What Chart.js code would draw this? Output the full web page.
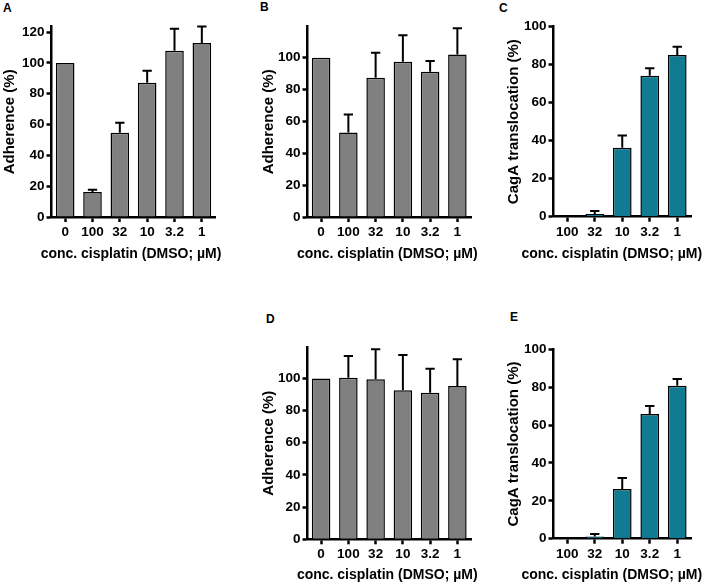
<!DOCTYPE html>
<html>
<head>
<meta charset="utf-8">
<script src="https://cdn.jsdelivr.net/npm/chart.js@4"></script>
<style>
  body { margin: 0; background: #fff; width: 704px; height: 582px; position: relative; overflow: hidden; font-family: "Liberation Sans", Arial, sans-serif; }
  canvas { position: absolute; }
  .tag { position: absolute; font-weight: bold; font-size: 12px; line-height: 12px; color: #000; }
</style>
</head>
<body>
<div class="tag" style="left:3px;top:2px">A</div>
<div class="tag" style="left:260px;top:1px">B</div>
<div class="tag" style="left:499px;top:2px">C</div>
<div class="tag" style="left:266px;top:313px">D</div>
<div class="tag" style="left:510px;top:311px">E</div>
<canvas id="cA"></canvas>
<canvas id="cB"></canvas>
<canvas id="cC"></canvas>
<canvas id="cD"></canvas>
<canvas id="cE"></canvas>
<script>
// categories
const adhCats = ["0", "100", "32", "10", "3.2", "1"];
const cagCats = ["100", "32", "10", "3.2", "1"];

// panel values (mean) and upper error (SD)
const adhA = [100, 16.2, 54.7, 87.1, 107.9, 112.9];
const errA = [0, 1.5, 6.5, 7.8, 14.3, 10.8];
const adhB = [100, 53.0, 87.5, 97.5, 91.2, 102.1];
const errB = [0, 11.3, 15.6, 16.7, 6.7, 16.5];
const cagC = [0, 1.4, 36.3, 74.2, 85.1];
const errC = [0, 1.6, 6.5, 3.9, 4.4];
const adhD = [100, 100.4, 99.4, 92.7, 91.1, 95.2];
const errD = [0, 13.5, 18.7, 21.9, 14.9, 16.7];
const cagE = [0, 1.2, 26.2, 65.8, 80.8];
const errE = [0, 1.3, 5.8, 4.3, 3.5];

// y tick labels
const ticks120 = [0, 20, 40, 60, 80, 100, 120];
const ticks100 = [0, 20, 40, 60, 80, 100];

const GREY = "#808080";
const TEAL = "#117a93";
const FONT = '"Liberation Sans", Arial, sans-serif';
const xTitle = "conc. cisplatin (DMSO; µM)";

const errorBars = {
  id: "errorBars",
  afterDatasetsDraw(chart, args, opts) {
    const { ctx } = chart;
    const y = chart.scales.y;
    const meta = chart.getDatasetMeta(0);
    const values = chart.data.datasets[0].data;
    ctx.save();
    ctx.strokeStyle = "#000";
    ctx.lineWidth = 2;
    meta.data.forEach((bar, i) => {
      const e = opts.err[i];
      if (!e) return;
      const top = y.getPixelForValue(values[i]);
      const end = y.getPixelForValue(values[i] + e);
      const half = bar.width / 4;
      ctx.beginPath();
      ctx.moveTo(bar.x, top);
      ctx.lineTo(bar.x, end);
      ctx.moveTo(bar.x - half, end);
      ctx.lineTo(bar.x + half, end);
      ctx.stroke();
    });
    ctx.restore();
  }
};

// x title drawn un-squeezed (the built-in one is clipped to the axis width)
const xTitlePlugin = {
  id: "xTitle",
  afterDraw(chart, args, opts) {
    const { ctx, chartArea } = chart;
    ctx.save();
    ctx.font = "bold 14px " + FONT;
    ctx.fillStyle = "#000";
    ctx.textAlign = "center";
    ctx.textBaseline = "middle";
    ctx.fillText(opts.text, (chartArea.left + chartArea.right) / 2 + opts.dx, chart.height - 7);
    ctx.restore();
  }
};

function axisStyle() {
  return {
    z: 1,
    grid: { display: true, drawOnChartArea: false, offset: false, tickLength: 5, tickWidth: 2.5, tickColor: "#000", color: "#000" },
    border: { display: true, color: "#000", width: 2.5 },
  };
}

function makePanel(id, geo, labels, values, errs, colour, yTicks, yMax, yTitle) {
  const c = geo.canvas, a = geo.area;
  const canvas = document.getElementById(id);
  canvas.width = c.w;
  canvas.height = c.h;
  canvas.style.left = c.left + "px";
  canvas.style.top = c.top + "px";
  const padLeft = geo.yTitleX - 9 - c.left;
  const yWidth = a.left - c.left - padLeft;
  const xHeight = c.top + c.h - a.bottom;

  new Chart(canvas, {
    type: "bar",
    data: {
      labels: labels,
      datasets: [{
        data: values,
        backgroundColor: colour,
        borderColor: "#000",
        borderWidth: 1.5,
        barPercentage: 0.68,
        categoryPercentage: 1,
      }]
    },
    options: {
      responsive: false,
      animation: false,
      layout: { padding: { left: padLeft, top: a.top - c.top, right: c.left + c.w - a.right, bottom: 0 } },
      plugins: {
        legend: { display: false },
        tooltip: { enabled: false },
        errorBars: { err: errs },
        xTitle: { text: xTitle, dx: geo.titleDx },
      },
      scales: {
        x: {
          ...axisStyle(),
          ticks: { color: "#000", font: { family: FONT, size: 13.5, weight: "bold" }, padding: 2, maxRotation: 0, autoSkip: false },
          afterFit: (s) => { s.height = xHeight; },
        },
        y: {
          ...axisStyle(),
          min: 0,
          max: yMax,
          afterBuildTicks: (s) => { s.ticks = yTicks.map(v => ({ value: v })); },
          ticks: { color: "#000", font: { family: FONT, size: 13.5, weight: "bold" }, padding: 2 },
          title: { display: true, text: yTitle, color: "#000", font: { family: FONT, size: 15, weight: "bold" }, padding: 0 },
          afterFit: (s) => { s.width = yWidth; },
        }
      }
    },
    plugins: [errorBars, xTitlePlugin]
  });
}

makePanel("cA", { canvas: { left: 0, top: 0, w: 230, h: 261 }, area: { left: 51.5, top: 26.7, right: 215.5, bottom: 217 }, yTitleX: 9.5, titleDx: -2.5 },
  adhCats, adhA, errA, GREY, ticks120, 123.5, "Adherence (%)");
makePanel("cB", { canvas: { left: 235, top: 0, w: 245, h: 261 }, area: { left: 307.5, top: 26.7, right: 471, bottom: 217 }, yTitleX: 269, titleDx: -2 },
  adhCats, adhB, errB, GREY, ticks100, 119.5, "Adherence (%)");
makePanel("cC", { canvas: { left: 480, top: 0, w: 224, h: 261 }, area: { left: 553.5, top: 26.7, right: 691, bottom: 216.7 }, yTitleX: 514, titleDx: -10.5 },
  cagCats, cagC, errC, TEAL, ticks100, 100, "CagA translocation (%)");
makePanel("cD", { canvas: { left: 235, top: 300, w: 245, h: 282 }, area: { left: 307.5, top: 347, right: 471, bottom: 539.3 }, yTitleX: 269, titleDx: -2 },
  adhCats, adhD, errD, GREY, ticks100, 119.5, "Adherence (%)");
makePanel("cE", { canvas: { left: 480, top: 300, w: 224, h: 282 }, area: { left: 553.5, top: 349.3, right: 691, bottom: 538.7 }, yTitleX: 514, titleDx: -10.5 },
  cagCats, cagE, errE, TEAL, ticks100, 100, "CagA translocation (%)");
</script>
</body>
</html>
